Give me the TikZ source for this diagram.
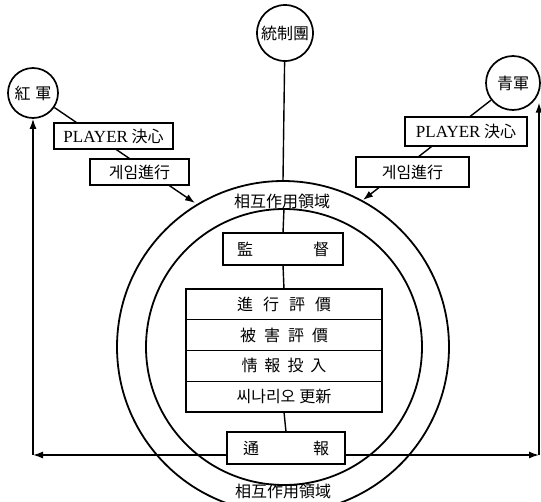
\documentclass[tikz,border=0pt]{standalone}
\usepackage{fontspec}
\setmainfont{Liberation Serif}
\newfontfamily\cjk{Noto Sans CJK KR}
\usetikzlibrary{arrows.meta}
\begin{document}
\begin{tikzpicture}[x=1pt,y=-1pt,line width=1.4pt,
  cjkfont/.style={font=\cjk\fontsize{16}{18}\selectfont},
  box/.style={draw,line width=1.4pt,fill=white,inner sep=0pt,outer sep=0pt,cjkfont},
  party/.style={draw,circle,line width=1.7pt,fill=white,inner sep=0pt,cjkfont},
  ring/.style={draw,circle,line width=1.8pt,inner sep=0pt},
  arr/.style={-{Latex[length=10pt,width=7pt]}}]
\useasboundingbox (0,0) rectangle (541,501);
% parties
\node[party,minimum size=50pt] (red) at (33,93) {紅\hspace{5pt}軍};
\node[party,minimum size=54pt] (blue) at (513,83) {青軍};
\node[party,minimum size=56pt] (ctrl) at (285,33) {統制團};
% rings
\node[ring,minimum size=332pt] (outer) at (283,347) {};
\node[ring,minimum size=276pt] (inner) at (284,347) {};
\node[cjkfont] (ltop) at (282,201) {相互作用領域};
\node[cjkfont] (lbot) at (283,491) {相互作用領域};
% entry points on the outer ring
\coordinate (ptL) at (195,203);
\coordinate (ptR) at (363,200);
\coordinate (cornerL) at (33,455);
\coordinate (cornerR) at (539,455);
% diagonal inputs
\draw[arr] (red) -- (ptL);
\draw[arr] (blue) -- (ptR);
% side boxes
\node[box,minimum width=119pt,minimum height=26pt] (pdL) at (113.5,136) {{\rmfamily\fontsize{17}{18}\selectfont PLAYER} 決心};
\node[box,minimum width=99pt,minimum height=26pt] (gpL) at (139.5,172) {게임進行};
\node[box,minimum width=122pt,minimum height=29pt] (pdR) at (466,131.5) {{\rmfamily\fontsize{17}{18}\selectfont PLAYER} 決心};
\node[box,minimum width=113pt,minimum height=30pt] (gpR) at (412.5,172) {게임進行};
% central column
\node[box,minimum width=120pt,minimum height=32pt] (sup) at (283,249) {監\hspace{60pt}督};
\node[box,minimum width=196pt,minimum height=30.75pt] (s1) at (284,304.4) {進\hspace{10pt}行\hspace{10pt}評\hspace{10pt}價};
\node[box,minimum width=196pt,minimum height=30.75pt] (s2) at (284,335.1) {被\hspace{8pt}害\hspace{8pt}評\hspace{8pt}價};
\node[box,minimum width=196pt,minimum height=30.75pt] (s3) at (284,365.9) {情\hspace{7pt}報\hspace{7pt}投\hspace{7pt}入};
\node[box,minimum width=196pt,minimum height=30.75pt] (s4) at (284,396.6) {씨나리오\hspace{4pt}更新};
\node[box,minimum width=118pt,minimum height=32pt] (tb) at (286,448) {通\hspace{54pt}報};
% connectors
\draw (ctrl) -- (outer.north);
\draw (inner.north) -- (sup.north);
\draw (sup.south) -- (s1.north);
\draw (s4.south) -- (tb.north);
\draw[arr] (tb.west |- cornerL) -- (cornerL);
\draw[arr] (cornerL) -- (red.south);
\draw[arr] (tb.east |- cornerR) -- (cornerR);
\draw[arr] (cornerR) -- (cornerR |- blue.south east);
\end{tikzpicture}
\end{document}
